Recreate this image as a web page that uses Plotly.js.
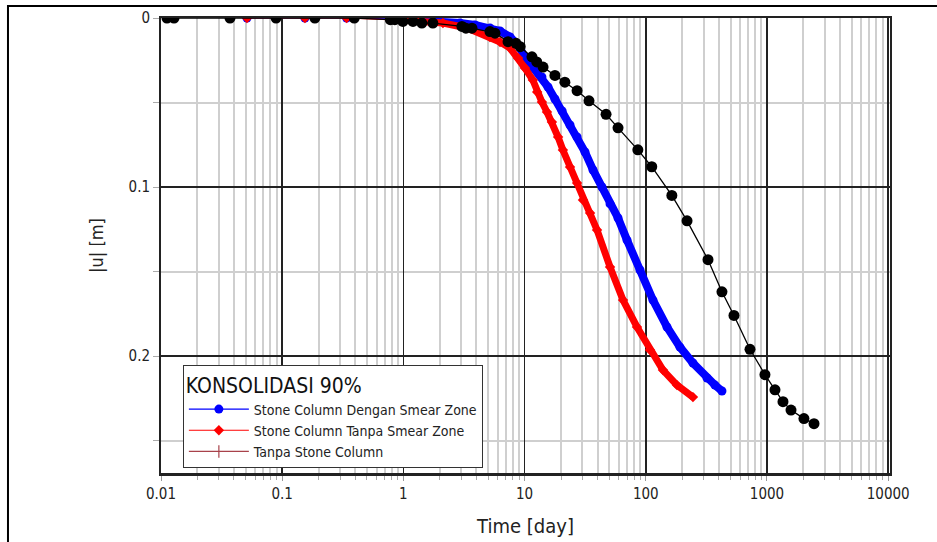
<!DOCTYPE html>
<html>
<head>
<meta charset="utf-8">
<script src="https://cdn.plot.ly/plotly-3.0.1.min.js"></script>
<style>html,body{margin:0;padding:0;background:#fff;}#chart{width:937px;height:542px;}</style>
</head>
<body>
<div id="chart"></div>
<script>
// Time [day] and |u| [m]
const blueName = "Stone Column Dengan Smear Zone";
const blueT = [0.0512, 0.154, 0.34, 0.78, 0.938, 1.37, 2.00, 2.93, 3.90, 5.18, 6.27, 7.58, 8.83, 10.07, 11.7, 13.9, 15.6, 17.8, 20.4, 23.7, 27.1, 31.5, 36.7, 43.5, 50.7, 59.0, 70.0, 89.6, 114.6, 149.6, 191.4, 245, 320, 372, 425];
const blueU = [0, 0, 0, 0.0005, 0.0008, 0.0012, 0.0018, 0.003, 0.0041, 0.0059, 0.0077, 0.0112, 0.016, 0.0231, 0.029, 0.0349, 0.0408, 0.0479, 0.055, 0.0633, 0.0704, 0.0793, 0.0899, 0.1, 0.11, 0.1183, 0.1314, 0.1491, 0.1669, 0.1828, 0.1947, 0.2041, 0.213, 0.2172, 0.2207];

const redName = "Stone Column Tanpa Smear Zone";
const redT = [0.0512, 0.154, 0.34, 0.938, 1.37, 2.12, 3.35, 5.18, 6.27, 7.58, 8.83, 10.07, 11.7, 12.7, 13.9, 15.3, 16.8, 18.9, 20.7, 23.7, 27.1, 30.3, 34.7, 39.6, 50.7, 64.9, 84.6, 108.3, 138.6, 180.9, 245];
const redU = [0, 0, 0, 0.0012, 0.0018, 0.003, 0.0059, 0.0112, 0.0142, 0.0178, 0.0237, 0.0296, 0.0367, 0.0438, 0.0497, 0.0556, 0.0615, 0.0704, 0.0781, 0.0882, 0.0976, 0.1077, 0.1154, 0.1254, 0.1473, 0.1669, 0.1828, 0.1964, 0.2083, 0.2172, 0.2243];

const blackName = "Tanpa Stone Column";
const blackT = [0.0112, 0.0128, 0.0371, 0.089, 0.186, 0.393, 0.78, 0.85, 0.99, 1.2, 1.42, 1.75, 3.04, 3.28, 3.68, 5.18, 5.7, 7.3, 8.5, 9.2, 11.5, 12.6, 14.2, 17.8, 21.5, 27.1, 34.0, 47.0, 59.0, 86, 112, 164, 219, 326, 425, 534, 724, 962, 1164, 1355, 1578, 2018, 2443];
const blackU = [0, 0, 0, 0, 0, 0, 0.001, 0.001, 0.002, 0.002, 0.003, 0.003, 0.005, 0.006, 0.006, 0.008, 0.009, 0.014, 0.015, 0.017, 0.023, 0.026, 0.029, 0.034, 0.038, 0.043, 0.049, 0.057, 0.065, 0.078, 0.088, 0.105, 0.12, 0.143, 0.162, 0.176, 0.196, 0.211, 0.220, 0.227, 0.232, 0.237, 0.240];

const legendTitle = "KONSOLIDASI 90%";
const xTitle = "Time [day]";
const yTitle = "|u| [m]";

const FONT = "DejaVu Sans Condensed, DejaVu Sans, sans-serif";
const BLUE = "#0000ff", RED = "#ff0000", BROWN = "#a8424a";

const traces = [
  {x: blueT.slice(3), y: blueU.slice(3), mode: "lines", line: {color: BLUE, width: 8}, showlegend: false, hoverinfo: "skip"},
  {x: blueT, y: blueU, name: blueName, mode: "lines+markers", line: {color: BLUE, width: 1.2}, marker: {color: BLUE, size: 9, symbol: "circle"}},
  {x: redT.slice(3), y: redU.slice(3), mode: "lines", line: {color: RED, width: 7}, showlegend: false, hoverinfo: "skip"},
  {x: redT, y: redU, name: redName, mode: "lines+markers", line: {color: RED, width: 1.2}, marker: {color: RED, size: 8, symbol: "diamond"}},
  {x: blackT, y: blackU, name: blackName, mode: "lines+markers", line: {color: "#000", width: 1.3}, marker: {color: "#000", size: 11, symbol: "circle"}, showlegend: false},
  {x: [null], y: [null], name: blackName, mode: "lines+markers", line: {color: BROWN, width: 1.2}, marker: {color: BROWN, size: 9, symbol: "line-ns-open", line: {color: BROWN, width: 1.2}}}
];

const layout = {
  width: 937, height: 542,
  margin: {l: 161, r: 47, t: 18, b: 69, pad: 0},
  paper_bgcolor: "#fff", plot_bgcolor: "#fff",
  font: {family: FONT, color: "#222", size: 15},
  showlegend: true,
  xaxis: {
    type: "log", range: [-2, 4.015], dtick: 1, tickformat: "~g",
    showgrid: true, gridcolor: "#222", gridwidth: 1.6,
    showline: true, linecolor: "#222", linewidth: 2.5, mirror: true,
    ticks: "outside", ticklen: 5, tickcolor: "#999",
    tickfont: {size: 15, family: FONT, color: "#222"},
    minor: {dtick: "D1", showgrid: true, gridcolor: "#cfcfcf", gridwidth: 2, ticks: "outside", ticklen: 4, tickcolor: "#aaa"},
    zeroline: false,
    title: {text: xTitle, font: {size: 20, family: FONT, color: "#222"}, standoff: 18},
    automargin: false
  },
  yaxis: {
    range: [0.2692, 0], tick0: 0, dtick: 0.1,
    showgrid: true, gridcolor: "#222", gridwidth: 1.6,
    showline: true, linecolor: "#222", linewidth: 2, mirror: true,
    ticks: "outside", ticklen: 6, tickcolor: "#aaa",
    tickfont: {size: 15, family: FONT, color: "#222"},
    minor: {dtick: 0.05, showgrid: true, gridcolor: "#cfcfcf", gridwidth: 2, ticks: "outside", ticklen: 6, tickcolor: "#aaa"},
    zeroline: false,
    title: {text: yTitle, font: {size: 18, family: FONT, color: "#222"}, standoff: 20},
    automargin: false
  },
  legend: {
    x: 0.03, xanchor: "left", y: 0.237, yanchor: "top",
    bgcolor: "#fff", bordercolor: "#333", borderwidth: 1,
    font: {size: 14, family: FONT, color: "#222"},
    title: {text: legendTitle, font: {size: 21, family: FONT, color: "#111"}},
    itemwidth: 60, tracegroupgap: 0
  },
  shapes: [
    {type: "rect", xref: "paper", yref: "paper", x0: -0.2099, x1: 1.07, y0: -0.16, y1: 1.0264, line: {color: "#000", width: 2}, fillcolor: "rgba(0,0,0,0)", layer: "above"}
  ]
};

Plotly.newPlot("chart", traces, layout, {displayModeBar: false, staticPlot: true});
</script>
</body>
</html>
